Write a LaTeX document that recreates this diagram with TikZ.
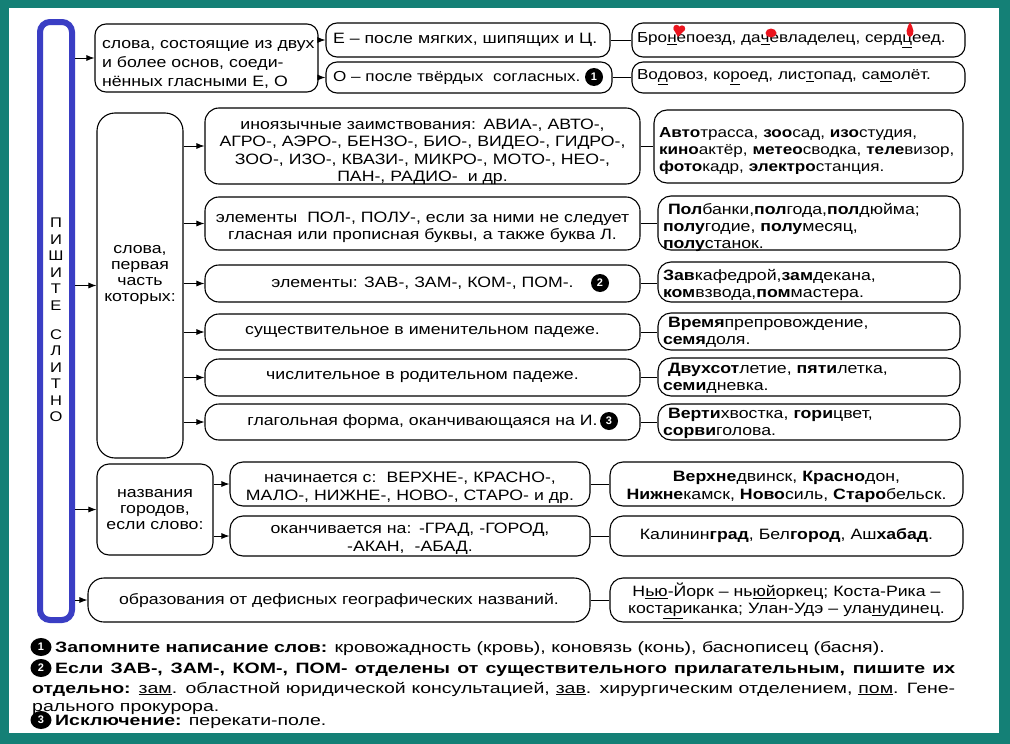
\documentclass[tikz,border=0pt]{standalone}
\usepackage{fontspec}
\setmainfont{Liberation Sans}
\newfontfamily\ft[FakeStretch=1.18]{Liberation Sans}
\newfontfamily\fnf[FakeStretch=1.3]{Liberation Sans}
\usetikzlibrary{arrows.meta,shapes.geometric}
\hyphenpenalty=10000
\exhyphenpenalty=10000
\definecolor{teal0}{RGB}{20,128,118}
\definecolor{bluebar}{RGB}{58,62,196}
\definecolor{redmark}{RGB}{235,20,30}
\tikzset{
  box/.style={draw,line width=1.1pt,rounded corners=11pt,inner sep=0pt},
  txt/.style={font=\ft\fontsize{15}{17.5}\selectfont},
  dtx/.style={font=\ft\fontsize{15}{17}\selectfont,align=left,text width=292pt},
  arr/.style={-{Latex[length=8pt,width=6pt]},line width=0.9pt},
  con/.style={line width=0.9pt},
  numc/.style={circle,fill=black,text=white,inner sep=0pt,minimum size=18pt,font=\bfseries\fontsize{11}{11}\selectfont},
  fnum/.style={ellipse,fill=black,text=white,inner sep=0pt,minimum width=21pt,minimum height=18pt,font=\bfseries\fontsize{11}{11}\selectfont},
  fnt/.style={anchor=base west,inner sep=0pt,font=\fnf\fontsize{15}{19}\selectfont},
  letter/.style={inner sep=0pt,font=\ft\fontsize{14}{14}\selectfont}
}
% name, cx, cy, width, height, box options, text options, text
\newcommand\tb[8]{%
  \node[box,minimum width=#4pt,minimum height=#5pt,#6] (#1) at (#2,#3) {};
  \node[txt,inner sep=0pt,#7] (#1t) at (#2,#3) {#8};}
\begin{document}
\begin{tikzpicture}[x=1pt,y=-1pt]
\useasboundingbox (0,0) rectangle (1010,744);
\fill[teal0] (0,0) rectangle (1010,744);
\fill[white] (9,8) rectangle (999,733);

% blue bar
\node[draw=bluebar,line width=6pt,rounded corners=10pt,minimum width=32pt,minimum height=598pt,inner sep=0pt] (bar) at (56,321) {};
\foreach \l/\y [count=\i] in {П/223,И/239.5,Ш/256,И/272.5,Т/289,Е/305.5,С/334.5,Л/351,И/367.5,Т/384,Н/400.5,О/417}
  \node[letter] (L\i) at (56,\y) {\l};

% top group
\tb{A}{206.5}{58}{223}{68}{}{font=\ft\fontsize{15}{19}\selectfont,text width=209pt,align=left,yshift=-6pt}
  {\makebox[209pt][s]{слова, состоящие из двух}\\\makebox[209pt][s]{и более основ, соеди-}\\нённых гласными Е, О}
\tb{E1}{468}{40}{284}{34}{}{text width=270pt,align=left}{Е – после мягких, шипящих и Ц.}
\tb{E2}{469}{77.5}{286}{31}{}{text width=272pt,align=left,font=\ft\fontsize{14.5}{17}\selectfont}{О – после твёрдых\ \ согласных.}
\node[numc] (n1) at (594,77) {1};
\tb{R1}{798.5}{40}{333}{34}{}{text width=323pt,align=left,font=\ft\fontsize{14.5}{17}\selectfont}
  {Бро\underline{н}епоезд, да\underline{ч}евладелец, серд\underline{ц}еед.}
\tb{R2}{798.5}{77.5}{333}{31}{}{text width=323pt,align=left,font=\ft\fontsize{14.5}{17}\selectfont}
  {Во\underline{д}овоз, ко\underline{р}оед, лис\underline{т}опад, са\underline{м}олёт.}

% red marks
\fill[redmark] (676.5,28) circle (3.2) (682,28.5) circle (3.2);
\fill[redmark] (673.4,29) -- (685.2,29.5) -- (678,37) -- cycle;
\fill[redmark] (771,33) ellipse [x radius=5.5, y radius=4.5];
\fill[redmark] (910,22) .. controls (913,28) and (916,34) .. (910,37) .. controls (904,34) and (907,28) .. (910,22);

% second group
\tb{B}{140}{285.5}{86}{345}{rounded corners=18pt}{align=center,font=\ft\fontsize{15}{16}\selectfont,yshift=10pt}
  {слова,\\первая\\часть\\которых:}

\tb{C1}{422.5}{146}{435}{76}{rounded corners=14pt}{text width=421pt,align=center,yshift=-6pt}
  {иноязычные заимствования: АВИА-, АВТО-,\\АГРО-, АЭРО-, БЕНЗО-, БИО-, ВИДЕО-, ГИДРО-,\\ЗОО-, ИЗО-, КВАЗИ-, МИКРО-, МОТО-, НЕО-,\\ПАН-, РАДИО-\ \ и др.}
\tb{C2}{422.5}{223.5}{435}{53}{rounded corners=14pt}{text width=421pt,align=center,yshift=-4pt}
  {элементы\ \ ПОЛ-, ПОЛУ-, если за ними не следует\\гласная или прописная буквы, а также буква Л.}
\tb{C3}{422.5}{283.5}{435}{37}{rounded corners=14pt}{}{элементы: ЗАВ-, ЗАМ-, КОМ-, ПОМ-.}
\node[numc] (n2) at (600,283) {2};
\tb{C4}{422.5}{332}{435}{36}{rounded corners=14pt}{}{существительное в именительном падеже.}
\tb{C5}{422.5}{377.5}{435}{37}{rounded corners=14pt}{}{числительное в родительном падеже.}
\tb{C6}{422.5}{422}{435}{36}{rounded corners=14pt}{}{глагольная форма, оканчивающаяся на И.}
\node[numc] (n3) at (609,421) {3};

\tb{D1}{808.5}{146.5}{309}{73}{rounded corners=13pt}{dtx,text width=299pt,font=\ft\fontsize{14.5}{17}\selectfont,yshift=-5pt}
  {\makebox[299pt][s]{\textbf{Авто}трасса, \textbf{зоо}сад, \textbf{изо}студия,}\\
   \makebox[299pt][s]{\textbf{кино}актёр, \textbf{метео}сводка, \textbf{теле}визор,}\\
   \textbf{фото}кадр, \textbf{электро}станция.}
\tb{D2}{809}{223}{302}{54}{rounded corners=13pt}{dtx,yshift=-4pt}
  {\hspace*{5pt}\textbf{Пол}банки,\textbf{пол}года,\textbf{пол}дюйма;\\\textbf{полу}годие, \textbf{полу}месяц,\\\textbf{полу}станок.}
\tb{D3}{809}{282}{302}{40}{rounded corners=13pt}{dtx,yshift=-3pt}
  {\textbf{Зав}кафедрой,\textbf{зам}декана,\\\textbf{ком}взвода,\textbf{пом}мастера.}
\tb{D4}{809}{331.5}{302}{37}{rounded corners=13pt}{dtx,yshift=-1pt}
  {\hspace*{5pt}\textbf{Время}препровождение,\\\textbf{семя}доля.}
\tb{D5}{809}{377}{302}{38}{rounded corners=13pt}{dtx,yshift=-1pt}
  {\hspace*{5pt}\textbf{Двухсот}летие, \textbf{пяти}летка,\\\textbf{семи}дневка.}
\tb{D6}{809}{422}{302}{36}{rounded corners=13pt}{dtx,yshift=-1pt}
  {\hspace*{5pt}\textbf{Верти}хвостка, \textbf{гори}цвет,\\\textbf{сорви}голова.}

% third group
\tb{F}{155}{509.5}{116}{91}{rounded corners=12pt}{align=center,font=\ft\fontsize{15}{16}\selectfont}
  {названия\\городов,\\если слово:}
\tb{G1}{410}{484}{360}{44}{rounded corners=13pt}{text width=346pt,align=center,yshift=-4pt}
  {начинается с:\ \ ВЕРХНЕ-, КРАСНО-,\\МАЛО-, НИЖНЕ-, НОВО-, СТАРО- и др.}
\tb{G2}{410}{536}{360}{40}{rounded corners=13pt}{text width=346pt,align=center,yshift=-3pt}
  {оканчивается на: -ГРАД, -ГОРОД,\\-АКАН,\ \ -АБАД.}
\tb{H1}{786.5}{484}{353}{44}{rounded corners=13pt}{text width=339pt,align=center,yshift=-3pt}
  {\textbf{Верхне}двинск, \textbf{Красно}дон,\\\textbf{Нижне}камск, \textbf{Ново}силь, \textbf{Старо}бельск.}
\tb{H2}{786.5}{536}{353}{40}{rounded corners=13pt}{text width=339pt,align=center}
  {Калинин\textbf{град}, Бел\textbf{город}, Аш\textbf{хабад}.}

% fourth group
\tb{I}{339}{600}{502}{44}{rounded corners=16pt}{text width=488pt,align=center}
  {образования от дефисных географических названий.}
\tb{J}{786.5}{600}{353}{44}{rounded corners=13pt}{text width=339pt,align=center,yshift=-1pt}
  {Н\underline{ью}-Йорк – нь\underline{юй}оркец; Коста-Рика –\\кост\underline{ар}иканка; Улан-Удэ – ула\underline{н}удинец.}

% connectors
\draw[arr] (bar.east |- A.west) -- (A.west);
\draw[arr] (A.east |- E1.west) -- (E1.west);
\draw[arr] (A.east |- E2.west) -- (E2.west);
\draw[con] (E1.east) -- (E1.east -| R1.west);
\draw[con] (E2.east) -- (E2.east -| R2.west);
\draw[arr] (bar.east |- B.west) -- (B.west);
\foreach \i in {1,...,6}{
  \draw[arr] (B.east |- C\i.west) -- (C\i.west);
  \draw[con] (C\i.east) -- (C\i.east -| D\i.west);
}
\draw[arr] (bar.east |- F.west) -- (F.west);
\draw[arr] (F.east |- G1.west) -- (G1.west);
\draw[arr] (F.east |- G2.west) -- (G2.west);
\draw[con] (G1.east) -- (G1.east -| H1.west);
\draw[con] (G2.east) -- (G2.east -| H2.west);
\draw[arr] (bar.east |- I.west) -- (I.west);
\draw[con] (I.east) -- (I.east -| J.west);

% footnotes
\node[fnum] (f1) at (41,647) {1};
\node[fnt] (t1) at (55,652) {\textbf{Запомните написание слов:} кровожадность (кровь), коновязь (конь), баснописец (басня).};
\node[fnum] (f2) at (41,668) {2};
\node[fnt] (t2) at (55,673) {\makebox[900pt][s]{\bfseries Если ЗАВ-, ЗАМ-, КОМ-, ПОМ- отделены от существительного прилагательным, пишите их}};
\node[fnt] (t3) at (32,693) {\makebox[923pt][s]{\textbf{отдельно:} \underline{зам}. областной юридической консультацией, \underline{зав}. хирургическим отделением, \underline{пом}. Гене-}};
\node[fnt] (t4) at (32,711) {рального прокурора.};
\node[fnum] (f3) at (41,720) {3};
\node[fnt] (t5) at (55,725) {\textbf{Исключение:} перекати-поле.};
\end{tikzpicture}
\end{document}
